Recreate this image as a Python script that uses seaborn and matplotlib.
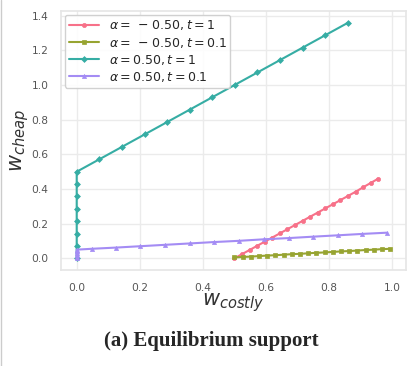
import numpy as np
import pandas as pd
import matplotlib
matplotlib.use("Agg")
import matplotlib.pyplot as plt
import seaborn as sns
from matplotlib.lines import Line2D

# series
labels = [r"$\alpha =\,-\,0.50, t=1$", r"$\alpha =\,-\,0.50, t=0.1$",
          r"$\alpha = 0.50, t=1$", r"$\alpha = 0.50, t=0.1$"]

x_neg_t1 = [0.5, 0.524, 0.548, 0.572, 0.596, 0.62, 0.644, 0.668, 0.692, 0.716,
            0.74, 0.764, 0.788, 0.812, 0.836, 0.86, 0.884, 0.908, 0.932, 0.956]
y_neg_t1 = [0.0, 0.024, 0.048, 0.072, 0.096, 0.12, 0.144, 0.168, 0.192, 0.216,
            0.24, 0.264, 0.288, 0.312, 0.336, 0.36, 0.384, 0.41, 0.435, 0.46]

x_neg_t01 = [0.5, 0.526, 0.552, 0.578, 0.604, 0.63, 0.656, 0.682, 0.708, 0.734,
             0.76, 0.786, 0.812, 0.838, 0.864, 0.89, 0.916, 0.942, 0.968, 0.994]
y_neg_t01 = [0.005, 0.008, 0.010, 0.013, 0.016, 0.018, 0.021, 0.024, 0.026, 0.029,
             0.032, 0.034, 0.037, 0.040, 0.042, 0.045, 0.048, 0.050, 0.053, 0.055]

x_pos_t1 = [0, 0, 0, 0, 0, 0, 0, 0,
            0.072, 0.143, 0.215, 0.287, 0.358, 0.43, 0.502, 0.573, 0.645, 0.717, 0.788, 0.86]
y_pos_t1 = [0.0, 0.071, 0.143, 0.214, 0.286, 0.357, 0.429, 0.5,
            0.572, 0.643, 0.715, 0.787, 0.858, 0.93, 1.002, 1.073, 1.145, 1.217, 1.288, 1.36]

x_pos_t01 = [0, 0, 0, 0, 0, 0,
             0.047, 0.124, 0.202, 0.28, 0.359, 0.436, 0.514, 0.595, 0.673, 0.749, 0.829, 0.906, 0.983]
y_pos_t01 = [0.0, 0.01, 0.02, 0.03, 0.04, 0.05,
             0.055, 0.062, 0.07, 0.078, 0.086, 0.094, 0.101, 0.11, 0.117, 0.125, 0.133, 0.141, 0.148]

xs = [x_neg_t1, x_neg_t01, x_pos_t1, x_pos_t01]
ys = [y_neg_t1, y_neg_t01, y_pos_t1, y_pos_t01]

df = pd.concat([pd.DataFrame({"w_costly": x, "w_cheap": y, "series": lab})
                for x, y, lab in zip(xs, ys, labels)], ignore_index=True)

sns.set_theme(style="whitegrid")
plt.rcParams["axes.edgecolor"] = "#e6e6e6"
plt.rcParams["grid.color"] = "#ebebeb"

fig = plt.figure(figsize=(4.18, 3.66), dpi=100)
ax = fig.add_axes([0.146, 0.262, 0.825, 0.708])

palette = sns.color_palette("husl", 4)
sns.lineplot(data=df, x="w_costly", y="w_cheap", hue="series", style="series",
             hue_order=labels, style_order=labels, palette=palette,
             markers=["o", "s", "D", "^"], dashes=False, sort=False,
             estimator=None, markersize=3, linewidth=1.5, ax=ax)
for ln in ax.lines:
    ln.set_markeredgecolor(ln.get_color())
    ln.set_markeredgewidth(0.5)

ax.set_xticks([0.0, 0.2, 0.4, 0.6, 0.8, 1.0])
ax.set_yticks([0.0, 0.2, 0.4, 0.6, 0.8, 1.0, 1.2, 1.4])
ax.set_xticklabels(["0.0", "0.2", "0.4", "0.6", "0.8", "1.0"])
ax.set_yticklabels(["0.0", "0.2", "0.4", "0.6", "0.8", "1.0", "1.2", "1.4"])
ax.tick_params(labelsize=7.7, labelcolor="#555555", pad=3)
ax.set_xlabel(r"$w_{costly}$", fontsize=15, color="#333333", labelpad=-1)
ax.set_ylabel(r"$w_{cheap}$", fontsize=15, color="#333333", labelpad=0)

handles, labs = ax.get_legend_handles_labels()
leg = ax.legend(handles, labs, loc="upper left", fontsize=9, frameon=True,
                borderpad=0.3, labelspacing=0.25, handlelength=2.4,
                borderaxespad=0.3, framealpha=0.9)
for h in leg.legend_handles:
    h.set_markeredgecolor(h.get_color())

fig.text(0.505, 0.068, "(a) Equilibrium support", ha="center", va="center",
         fontsize=15, fontweight="bold", family="Liberation Serif")
fig.add_artist(Line2D([0.003, 0.003], [0, 1], color="#cccccc", lw=1,
                      transform=fig.transFigure))

fig.savefig("out.png", dpi=100)
